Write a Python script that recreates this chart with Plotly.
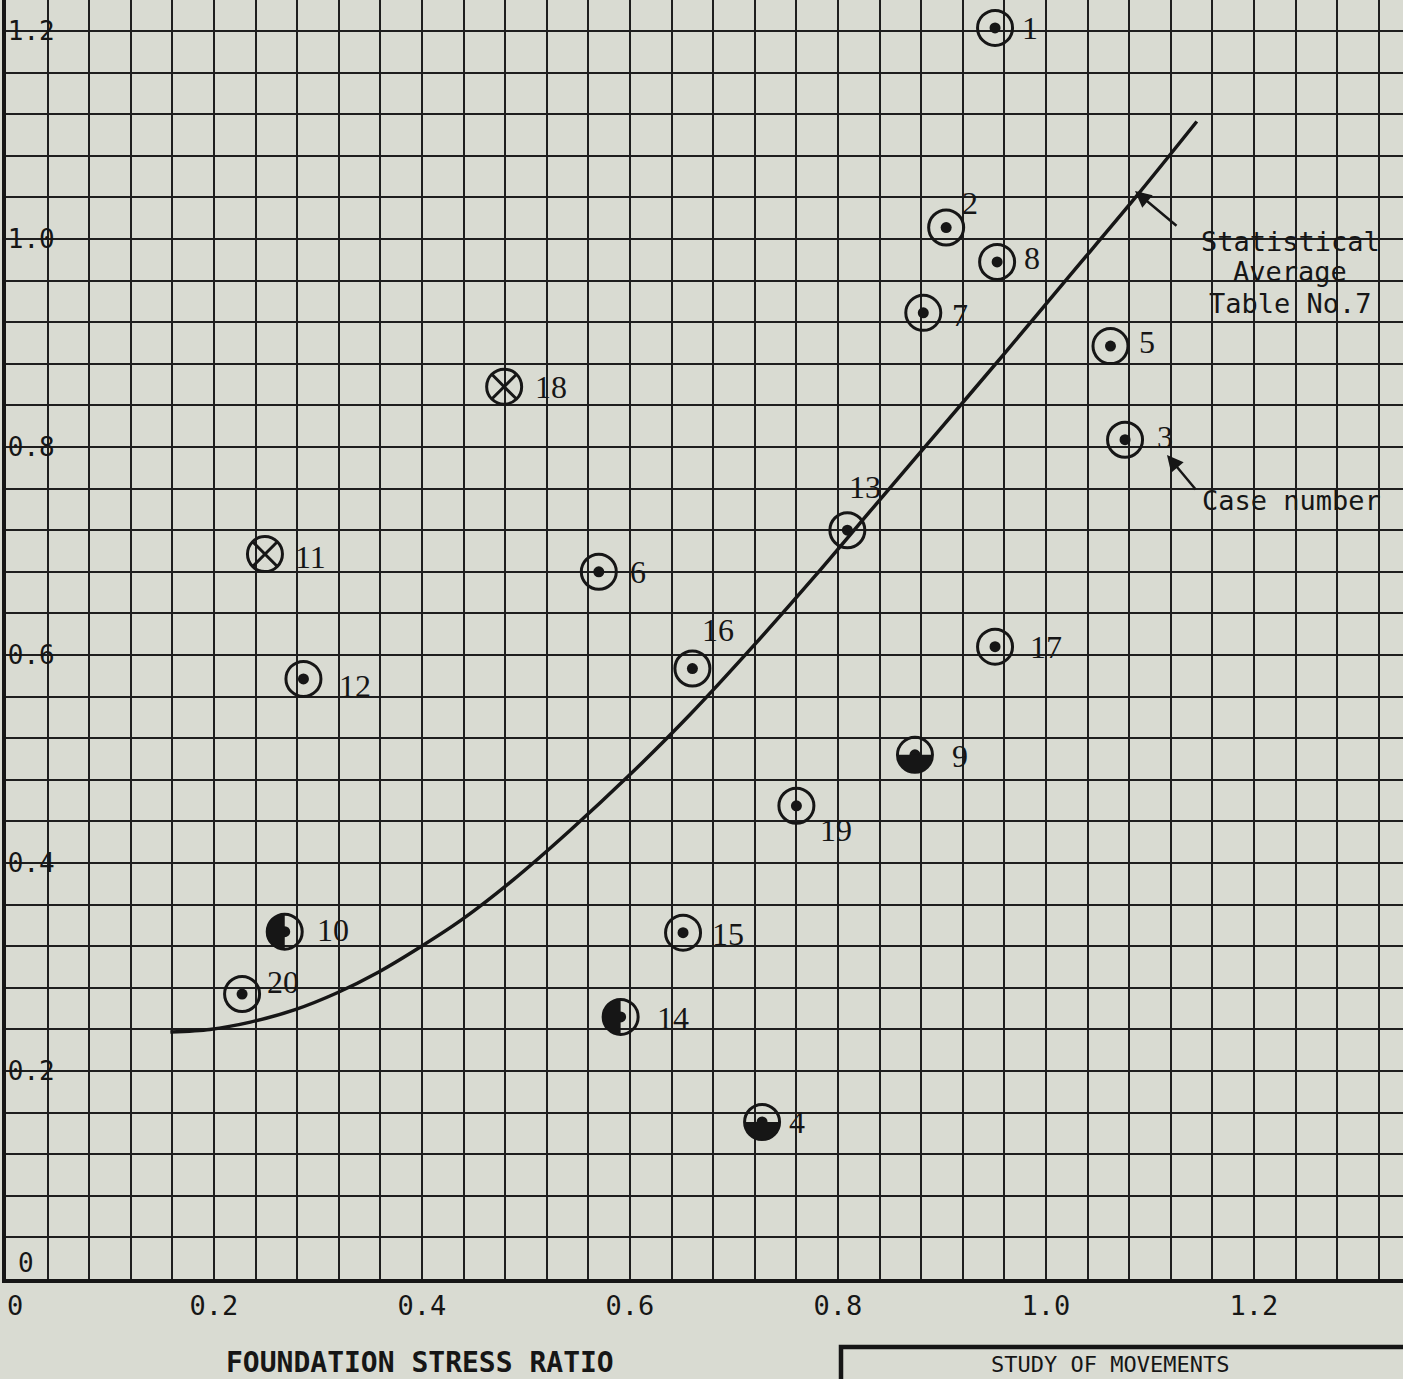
import math
import plotly.graph_objects as go

# ---------------- data ----------------
case_numbers = ["1", "2", "3", "4", "5", "6", "7", "8", "9", "10",
                "11", "12", "13", "14", "15", "16", "17", "18", "19", "20"]
stress_ratio = [0.951, 0.904, 1.076, 0.727, 1.062, 0.570, 0.882, 0.953, 0.874, 0.268,
                0.249, 0.286, 0.809, 0.591, 0.651, 0.660, 0.951, 0.479, 0.760, 0.227]
movement = [1.203, 1.011, 0.807, 0.151, 0.897, 0.680, 0.929, 0.978, 0.504, 0.334,
            0.697, 0.577, 0.720, 0.252, 0.333, 0.587, 0.608, 0.858, 0.455, 0.274]
symbol_kind = ["dot", "dot", "dot", "bottom", "dot", "dot", "dot", "dot", "bottom", "left",
               "x", "dot", "dot", "left", "dot", "dot", "dot", "x", "dot", "dot"]

curve_x = [0.158, 0.196, 0.235, 0.278, 0.318, 0.358, 0.398, 0.439, 0.488, 0.542,
           0.600, 0.658, 0.718, 0.778, 0.840, 0.898, 0.961, 1.023, 1.086, 1.145]
curve_y = [0.2375, 0.240, 0.247, 0.259, 0.275, 0.295, 0.319, 0.346, 0.384, 0.431,
           0.485, 0.543, 0.608, 0.676, 0.749, 0.817, 0.891, 0.965, 1.040, 1.113]

x_tick_vals = [0.2, 0.4, 0.6, 0.8, 1.0, 1.2]
x_tick_text = ["0.2", "0.4", "0.6", "0.8", "1.0", "1.2"]
y_tick_vals = [0.2, 0.4, 0.6, 0.8, 1.0, 1.2]
y_tick_text = ["0.2", "0.4", "0.6", "0.8", "1.0", "1.2"]
origin_label = "0"

x_title = "FOUNDATION STRESS RATIO"
box_title = "STUDY OF MOVEMENTS"
curve_note_lines = ["Statistical", "Average", "Table No.7"]
case_note = "Case number"

# ---------------- styling / layout constants ----------------
W, H = 1403, 1379
ML, MB = 6, 100
PLOT_W, PLOT_H = W - ML, H - MB
PX_PER_UNIT = 1040.0
BG = "#d9dbd2"
INK = "#161616"

label_dx = [25, 14, 30, 25, 27, 29, 27, 25, 35, 30, 28, 34, 0, 34, 27, 8, 33, 29, 22, 23]
label_dy = [0, 25, 3, 0, 4, 0, -2, 4, -1, 2, -3, -7, 43, -1, -1, 39, 0, 0, -24, 12]

RING = 35
RING_W = 3
DOT = 11
HALF_R = 17.5

fig = go.Figure()

fig.add_trace(go.Scatter(x=curve_x, y=curve_y, mode="lines",
                         line=dict(color=INK, width=3.5, shape="spline", smoothing=0.8),
                         hoverinfo="skip", showlegend=False))

ring_x = [x for x, k in zip(stress_ratio, symbol_kind) if k != "x"]
ring_y = [y for y, k in zip(movement, symbol_kind) if k != "x"]
cross_x = [x for x, k in zip(stress_ratio, symbol_kind) if k == "x"]
cross_y = [y for y, k in zip(movement, symbol_kind) if k == "x"]

fig.add_trace(go.Scatter(x=ring_x, y=ring_y, mode="markers",
                         marker=dict(symbol="circle-open", size=RING,
                                     line=dict(color=INK, width=RING_W), color=INK),
                         showlegend=False, hoverinfo="skip"))
fig.add_trace(go.Scatter(x=ring_x, y=ring_y, mode="markers",
                         marker=dict(symbol="circle", size=DOT, color=INK,
                                     line=dict(width=0)),
                         showlegend=False, hoverinfo="skip"))
fig.add_trace(go.Scatter(x=cross_x, y=cross_y, mode="markers",
                         marker=dict(symbol="circle-x-open", size=RING,
                                     line=dict(color=INK, width=RING_W), color=INK),
                         showlegend=False, hoverinfo="skip"))


def half_path(kind, r):
    if kind == "left":
        a0, a1 = math.pi / 2, 3 * math.pi / 2
    else:
        a0, a1 = math.pi, 2 * math.pi
    pts = []
    n = 28
    for i in range(n + 1):
        t = a0 + (a1 - a0) * i / n
        pts.append((r * math.cos(t), r * math.sin(t)))
    d = "M %.2f,%.2f " % pts[0]
    d += " ".join("L %.2f,%.2f" % p for p in pts[1:])
    return d + " Z"


shapes = []
for x, y, k in zip(stress_ratio, movement, symbol_kind):
    if k in ("left", "bottom"):
        shapes.append(dict(type="path", xref="x", yref="y",
                           xsizemode="pixel", ysizemode="pixel",
                           xanchor=x, yanchor=y,
                           path=half_path(k, HALF_R),
                           fillcolor=INK, line=dict(width=0), layer="above"))


def px_to_paper_x(px):
    return (px - ML) / PLOT_W


def px_to_paper_y(py):
    return (PLOT_H - py) / PLOT_H


def px_to_data_y(py):
    return (PLOT_H - py) / PX_PER_UNIT


def px_to_data_x(px):
    return (px - ML) / PX_PER_UNIT


shapes.append(dict(type="rect", xref="paper", yref="paper",
                   x0=px_to_paper_x(841), x1=px_to_paper_x(1420),
                   y0=px_to_paper_y(1420), y1=px_to_paper_y(1347),
                   line=dict(color=INK, width=4.5), fillcolor="rgba(0,0,0,0)"))

annotations = []
for name, x, y, dx, dy in zip(case_numbers, stress_ratio, movement, label_dx, label_dy):
    annotations.append(dict(x=x, y=y, xref="x", yref="y", text=name, showarrow=False,
                            xanchor="left", yanchor="middle", xshift=dx, yshift=dy,
                            font=dict(family="Liberation Serif", size=32, color=INK)))

note_font = dict(family="DejaVu Sans Mono", size=27, color=INK)
for line, py in zip(curve_note_lines, [241, 271, 303]):
    annotations.append(dict(x=px_to_data_x(1290), y=px_to_data_y(py), xref="x", yref="y",
                            text=line, showarrow=False, xanchor="center", yanchor="middle",
                            font=note_font))
annotations.append(dict(x=px_to_data_x(1135), y=px_to_data_y(191), xref="x", yref="y", text="",
                        showarrow=True, arrowhead=2, arrowsize=1.3, arrowwidth=2.5,
                        arrowcolor=INK, ax=43, ay=36, standoff=0))
annotations.append(dict(x=px_to_data_x(1291), y=px_to_data_y(500), xref="x", yref="y",
                        text=case_note, showarrow=False, xanchor="center", yanchor="middle",
                        font=note_font))
annotations.append(dict(x=px_to_data_x(1167), y=px_to_data_y(455), xref="x", yref="y", text="",
                        showarrow=True, arrowhead=2, arrowsize=1.3, arrowwidth=2.5,
                        arrowcolor=INK, ax=30, ay=36, standoff=0))

# origin labels
annotations.append(dict(x=0, y=0, xref="x", yref="y", text=origin_label, showarrow=False,
                        xanchor="left", yanchor="middle", xshift=10, yshift=16,
                        font=dict(family="DejaVu Sans Mono", size=26, color=INK)))
annotations.append(dict(x=0, y=0, xref="x", yref="y", text=origin_label, showarrow=False,
                        xanchor="center", yanchor="middle", xshift=9, yshift=-26,
                        font=dict(family="DejaVu Sans Mono", size=27, color=INK)))

annotations.append(dict(x=px_to_paper_x(420), y=px_to_paper_y(1362), xref="paper", yref="paper",
                        text=x_title, showarrow=False, xanchor="center", yanchor="middle",
                        font=dict(family="DejaVu Sans Mono", size=28, color=INK, weight="bold")))
annotations.append(dict(x=px_to_paper_x(1110), y=px_to_paper_y(1364), xref="paper", yref="paper",
                        text=box_title, showarrow=False, xanchor="center", yanchor="middle",
                        borderpad=0,
                        font=dict(family="DejaVu Sans Mono", size=22, color=INK)))

grid_col = "#1e1e1e"
fig.update_layout(
    width=W, height=H,
    margin=dict(l=ML, r=0, t=0, b=MB, pad=0),
    paper_bgcolor=BG, plot_bgcolor=BG,
    showlegend=False,
    shapes=shapes,
    annotations=annotations,
    xaxis=dict(range=[0, PLOT_W / PX_PER_UNIT], tickmode="array",
               tickvals=x_tick_vals, ticktext=x_tick_text,
               showgrid=True, gridcolor=grid_col, gridwidth=1.8,
               minor=dict(dtick=0.04, tick0=0, showgrid=True, gridcolor=grid_col, gridwidth=1.8),
               zeroline=False, showline=True, linecolor=INK, linewidth=4,
               ticks="", ticklabelstandoff=0, ticklabeloverflow="allow",
               tickfont=dict(family="DejaVu Sans Mono", size=27, color=INK)),
    yaxis=dict(range=[0, PLOT_H / PX_PER_UNIT], tickmode="array",
               tickvals=y_tick_vals, ticktext=y_tick_text,
               showgrid=True, gridcolor=grid_col, gridwidth=1.8,
               minor=dict(dtick=0.04, tick0=0, showgrid=True, gridcolor=grid_col, gridwidth=1.8),
               zeroline=False, showline=True, linecolor=INK, linewidth=4,
               ticks="", ticklabelposition="inside", ticklabeloverflow="allow",
               ticklabelstandoff=4,
               tickfont=dict(family="DejaVu Sans Mono", size=26, color=INK)),
)

fig.write_html("out.html",
               config={"displayModeBar": False},
               post_script="document.body.style.margin='0px';"
                           "document.body.style.background='" + BG + "';")
